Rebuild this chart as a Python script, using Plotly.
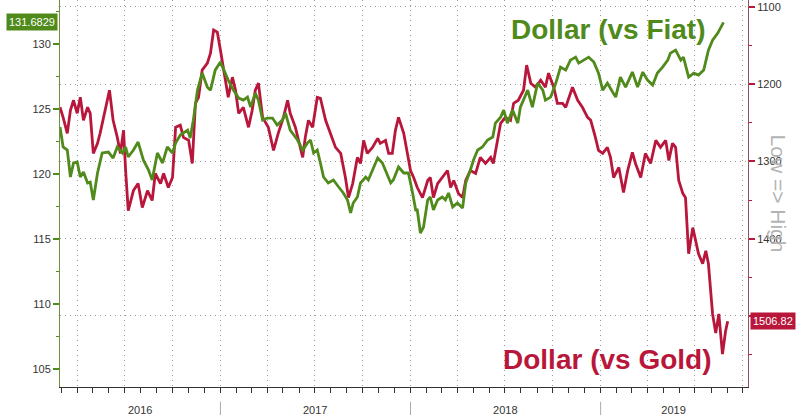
import plotly.graph_objects as go

# ---------------- data ----------------
fiat_dates = ['2016-02-28','2016-03-05','2016-03-13','2016-03-19','2016-03-25','2016-04-01','2016-04-07','2016-04-13','2016-04-21','2016-04-26',
'2016-05-02','2016-05-10','2016-05-19','2016-05-31','2016-06-09','2016-06-17','2016-06-27','2016-07-03','2016-07-08','2016-07-18',
'2016-07-27','2016-08-06','2016-08-16','2016-08-23','2016-09-02','2016-09-12','2016-09-21','2016-10-01','2016-10-07','2016-10-16',
'2016-10-30','2016-11-04','2016-11-10','2016-11-18','2016-11-27','2016-12-07','2016-12-13','2016-12-22','2017-01-01','2017-01-07',
'2017-01-16','2017-01-26','2017-02-05','2017-02-14','2017-02-22','2017-02-28','2017-03-09','2017-03-15','2017-03-23','2017-04-01',
'2017-04-11','2017-04-20','2017-04-30','2017-05-06','2017-05-15','2017-05-29','2017-06-08','2017-06-17','2017-06-23','2017-06-29',
'2017-07-06','2017-07-12','2017-07-18','2017-07-27','2017-08-06','2017-08-16','2017-08-25','2017-09-02','2017-09-08','2017-09-13',
'2017-09-21','2017-09-27','2017-10-07','2017-10-12','2017-10-22','2017-10-30','2017-11-08','2017-11-14','2017-11-24','2017-11-29',
'2017-12-09','2017-12-19','2017-12-28','2018-01-05','2018-01-11','2018-01-14','2018-01-20','2018-01-26','2018-02-03','2018-02-08',
'2018-02-14','2018-02-22','2018-03-03','2018-03-09','2018-03-15','2018-03-23','2018-04-01','2018-04-11','2018-04-17','2018-04-26',
'2018-05-02','2018-05-10','2018-05-19','2018-05-29','2018-06-08','2018-06-13','2018-06-23','2018-06-29','2018-07-06','2018-07-16',
'2018-07-26','2018-07-31','2018-08-06','2018-08-14','2018-08-23','2018-09-02','2018-09-12','2018-09-17','2018-09-27','2018-10-07',
'2018-10-16','2018-10-26','2018-11-04','2018-11-14','2018-11-20','2018-11-29','2018-12-09','2018-12-19','2018-12-28','2019-01-05',
'2019-01-14','2019-01-24','2019-01-30','2019-02-08','2019-02-18','2019-03-03','2019-03-13','2019-03-23','2019-04-01','2019-04-11',
'2019-04-20','2019-04-30','2019-05-10','2019-05-15','2019-05-25','2019-06-04','2019-06-09','2019-06-19','2019-06-29','2019-07-08',
'2019-07-18','2019-07-27','2019-08-04','2019-08-14','2019-08-20','2019-08-25']

fiat_values = [123.62,122.08,121.85,119.77,120.85,120.92,119.77,120.15,119.31,119.38,
118.0,120.08,121.62,121.69,121.23,122.08,121.62,122.08,121.31,121.85,
122.46,121.08,120.31,119.54,121.62,120.85,122.08,121.62,122.38,123.0,
123.38,122.77,124.15,126.46,127.77,126.69,126.46,128.0,128.62,128.0,
127.23,126.46,125.85,125.69,125.92,125.15,126.23,125.69,124.15,124.31,
124.31,123.77,124.15,124.69,123.38,122.62,121.85,122.38,122.62,121.62,
121.85,120.85,119.77,119.31,119.54,119.0,118.54,118.0,117.0,117.77,
118.23,119.31,119.77,119.54,120.54,121.23,120.85,120.31,119.31,119.54,
120.54,120.08,120.08,118.54,117.23,117.23,115.46,115.92,118.0,118.23,
117.23,118.0,118.23,118.0,118.54,117.46,117.77,117.38,119.31,120.31,
121.08,121.85,122.08,122.62,122.85,123.92,124.38,124.92,123.92,124.92,
123.92,125.15,125.69,126.46,125.15,127.0,126.46,125.69,125.92,127.0,
128.23,128.0,128.77,129.0,128.54,128.77,129.0,128.62,127.77,126.46,
127.0,126.31,125.92,127.46,126.69,127.85,126.69,127.85,127.23,126.85,
127.77,128.23,128.77,129.31,129.54,128.77,129.0,127.46,127.77,127.62,
128.0,129.54,130.31,130.85,131.31,131.6829]

gold_dates = ['2016-02-28','2016-03-05','2016-03-13','2016-03-19','2016-03-25','2016-04-01','2016-04-07','2016-04-13','2016-04-21','2016-04-26',
'2016-05-02','2016-05-10','2016-05-15','2016-05-25','2016-06-02','2016-06-09','2016-06-17','2016-06-23','2016-06-29','2016-07-03',
'2016-07-08','2016-07-18','2016-07-27','2016-08-04','2016-08-14','2016-08-23','2016-08-29','2016-09-08','2016-09-14','2016-09-23',
'2016-10-01','2016-10-07','2016-10-16','2016-10-22','2016-11-01','2016-11-08','2016-11-14','2016-11-20','2016-11-27','2016-12-07',
'2016-12-13','2016-12-19','2016-12-26','2017-01-01','2017-01-07','2017-01-16','2017-01-24','2017-01-30','2017-02-05','2017-02-14',
'2017-02-24','2017-03-03','2017-03-09','2017-03-15','2017-03-23','2017-04-03','2017-04-13','2017-04-22','2017-05-02','2017-05-10',
'2017-05-15','2017-05-25','2017-06-08','2017-06-13','2017-06-19','2017-06-27','2017-07-06','2017-07-12','2017-07-22','2017-07-31',
'2017-08-10','2017-08-20','2017-08-29','2017-09-04','2017-09-12','2017-09-21','2017-09-27','2017-10-03','2017-10-10','2017-10-20',
'2017-10-30','2017-11-04','2017-11-14','2017-11-20','2017-11-27','2017-12-03','2017-12-09','2017-12-19','2017-12-26','2018-01-01',
'2018-01-07','2018-01-14','2018-01-24','2018-02-03','2018-02-08','2018-02-14','2018-02-22','2018-03-03','2018-03-13','2018-03-19',
'2018-03-25','2018-04-03','2018-04-11','2018-04-17','2018-04-26','2018-05-06','2018-05-15','2018-05-25','2018-06-04','2018-06-09',
'2018-06-17','2018-06-23','2018-07-02','2018-07-12','2018-07-18','2018-07-27','2018-08-06','2018-08-12','2018-08-20','2018-08-29',
'2018-09-08','2018-09-17','2018-09-23','2018-10-03','2018-10-10','2018-10-20','2018-10-26','2018-11-08','2018-11-18','2018-11-27',
'2018-12-07','2018-12-13','2018-12-22','2018-12-28','2019-01-05','2019-01-14','2019-01-20','2019-01-26','2019-02-05','2019-02-14',
'2019-02-22','2019-03-03','2019-03-09','2019-03-19','2019-03-28','2019-04-07','2019-04-17','2019-04-26','2019-05-06','2019-05-12',
'2019-05-19','2019-05-25','2019-05-31','2019-06-08','2019-06-13','2019-06-19','2019-06-27','2019-07-02','2019-07-08','2019-07-16',
'2019-07-22','2019-07-27','2019-08-04','2019-08-10','2019-08-16','2019-08-23','2019-08-29','2019-09-02']

gold_values = [1229.9,1242.9,1263.6,1233.8,1220.8,1237.7,1216.9,1246.8,1229.9,1237.7,
1289.6,1276.6,1263.6,1233.8,1207.8,1246.8,1268.8,1289.6,1259.7,1311.7,
1363.6,1337.7,1328.6,1359.7,1337.7,1350.6,1315.6,1328.6,1315.6,1333.8,
1320.8,1255.8,1253.2,1268.8,1272.7,1302.6,1224.7,1216.9,1181.8,1172.7,
1159.7,1129.9,1132.5,1155.8,1181.8,1216.9,1190.9,1207.8,1237.7,1229.9,
1255.8,1233.8,1207.8,1198.7,1242.9,1255.8,1285.7,1263.6,1242.9,1220.8,
1237.7,1255.8,1294.8,1268.8,1246.8,1255.8,1216.9,1218.2,1246.8,1263.6,
1281.8,1289.6,1320.8,1346.8,1328.6,1294.8,1302.6,1272.7,1289.6,1281.8,
1270.1,1276.6,1272.7,1289.6,1289.6,1259.7,1242.9,1263.6,1289.6,1311.7,
1320.8,1333.8,1346.8,1324.7,1320.8,1346.8,1328.6,1320.8,1311.7,1333.8,
1324.7,1341.6,1346.8,1324.7,1311.7,1315.6,1294.8,1302.6,1294.8,1302.6,
1272.7,1250.6,1242.9,1246.8,1224.7,1220.8,1207.8,1175.3,1198.7,1203.9,
1194.8,1203.9,1185.7,1203.9,1224.7,1224.7,1229.9,1203.9,1220.8,1229.9,
1242.9,1246.8,1268.8,1285.7,1289.6,1281.8,1294.8,1320.8,1307.8,1340.3,
1311.7,1288.3,1302.6,1320.8,1289.6,1302.6,1272.7,1281.8,1272.7,1298.7,
1276.6,1281.8,1324.7,1341.6,1346.8,1419.5,1385.7,1402.6,1419.5,1432.5,
1415.6,1432.5,1497.4,1522.1,1497.4,1549.4,1519.5,1506.82]

year_label_dates = ['2016-07-31', '2017-07-02', '2018-07-02', '2019-05-21']
year_labels = ['2016', '2017', '2018', '2019']

# ---------------- styling ----------------
GREEN = '#4f8a1b'
RED = '#b8173b'
GRID = '#999999'
DOTS = '1px,4px'
FONT = 'Liberation Sans, Arial, sans-serif'
X_RANGE = ['2016-02-28', '2019-10-11']

fig = go.Figure()
# gold on the main (right, inverted) axis, fiat on the overlaying left axis so green sits on top
fig.add_trace(go.Scatter(x=gold_dates, y=gold_values, xaxis='x', yaxis='y', mode='lines',
                         line=dict(color=RED, width=2.8), hoverinfo='skip', showlegend=False))
# invisible helpers so the overlaying date axes (quarter grid, year labels) get drawn
fig.add_trace(go.Scatter(x=gold_dates, y=gold_values, xaxis='x2', yaxis='y', mode='lines',
                         line=dict(width=0), opacity=0, hoverinfo='skip', showlegend=False))
fig.add_trace(go.Scatter(x=gold_dates, y=gold_values, xaxis='x3', yaxis='y', mode='lines',
                         line=dict(width=0), opacity=0, hoverinfo='skip', showlegend=False))
fig.add_trace(go.Scatter(x=fiat_dates, y=fiat_values, xaxis='x', yaxis='y2', mode='lines',
                         line=dict(color=GREEN, width=2.8), hoverinfo='skip', showlegend=False))

fig.update_layout(
    width=800, height=415,
    margin=dict(l=60, r=52, t=0, b=28, autoexpand=False),
    paper_bgcolor='white', plot_bgcolor='white',
    font=dict(family=FONT, size=11, color='#333333'),
    showlegend=False,
    hovermode=False,
    xaxis=dict(type='date', range=X_RANGE, tick0='2016-01-01', dtick='M1',
               ticks='outside', ticklen=5, tickcolor='#333333', tickwidth=1,
               showticklabels=False, showgrid=False, zeroline=False,
               showline=True, linecolor='#333333', linewidth=1, automargin=False),
    xaxis2=dict(type='date', overlaying='x', anchor='y', side='bottom', range=X_RANGE,
                tickmode='linear', tick0='2016-01-01', dtick='M3', ticks='', showticklabels=False,
                showgrid=True, gridcolor=GRID, griddash=DOTS, gridwidth=1,
                minor=dict(showgrid=False, ticks=''),
                showline=False, zeroline=False, automargin=False),
    xaxis3=dict(type='date', overlaying='x', anchor='y', side='bottom', range=X_RANGE,
                tickmode='array', tickvals=year_label_dates, ticktext=year_labels,
                ticks='', showgrid=False, showline=False, zeroline=False,
                ticklabelstandoff=15, tickfont=dict(size=11, color='#333333'),
                automargin=False),
    yaxis=dict(side='right', anchor='x', range=[1592, 1091],
               tickmode='linear', tick0=1100, dtick=100, labelalias={1500: ''},
               ticks='outside', ticklen=6, tickwidth=2, tickcolor=RED,
               minor=dict(tickmode='linear', tick0=1050, dtick=50, ticks='outside',
                          ticklen=3, tickwidth=1, tickcolor=RED, showgrid=False),
               showgrid=True, gridcolor=GRID, griddash=DOTS, gridwidth=1,
               zeroline=False, showline=True, linecolor='#93505f', linewidth=1,
               tickfont=dict(size=11, color='#333333'), automargin=False),
    yaxis2=dict(overlaying='y', side='left', anchor='x', range=[103.6, 133.4],
                tickmode='linear', tick0=105, dtick=5,
                ticks='outside', ticklen=6, tickwidth=2, tickcolor=GREEN,
                minor=dict(tickmode='linear', tick0=102.5, dtick=2.5, ticks='outside',
                           ticklen=3, tickwidth=1, tickcolor=GREEN, showgrid=False),
                showgrid=False, zeroline=False, showline=True, linecolor='#6f8f3a',
                linewidth=1, tickfont=dict(size=11, color='#333333'), automargin=False),
)

# year separators below the date axis
for yr in year_labels[1:]:
    fig.add_shape(type='line', xref='x', yref='paper', x0=f'{yr}-01-01', x1=f'{yr}-01-01',
                  y0=-0.038, y1=-0.075, line=dict(color='#aaaaaa', width=1))

fig.add_annotation(text='<b>Dollar (vs Fiat)</b>', xref='paper', yref='paper',
                   x=0.797, y=0.925, xanchor='center', yanchor='middle', showarrow=False,
                   font=dict(family=FONT, size=28, color=GREEN))
fig.add_annotation(text='<b>Dollar (vs Gold)</b>', xref='paper', yref='paper',
                   x=0.795, y=0.072, xanchor='center', yanchor='middle', showarrow=False,
                   font=dict(family=FONT, size=28, color=RED))
fig.add_annotation(text=f'{fiat_values[-1]:.4f}', xref='paper', yref='y2',
                   x=0, y=fiat_values[-1], xanchor='right', yanchor='middle', xshift=-2,
                   showarrow=False, bgcolor=GREEN, borderpad=2,
                   font=dict(family=FONT, size=11, color='white'))
fig.add_annotation(text=f'{gold_values[-1]:.2f}', xref='paper', yref='y',
                   x=1, y=gold_values[-1], xanchor='left', yanchor='middle', xshift=2,
                   showarrow=False, bgcolor=RED, borderpad=2,
                   font=dict(family=FONT, size=11, color='white'))
fig.add_annotation(text='Low => High', xref='paper', yref='paper',
                   x=1.045, y=0.5, xanchor='center', yanchor='middle', textangle=90,
                   showarrow=False, font=dict(family=FONT, size=21, color='#b3b3b3'))

fig.write_html('out.html', config={'displayModeBar': False},
               post_script="document.body.style.margin='0px';document.body.style.padding='0px';")
